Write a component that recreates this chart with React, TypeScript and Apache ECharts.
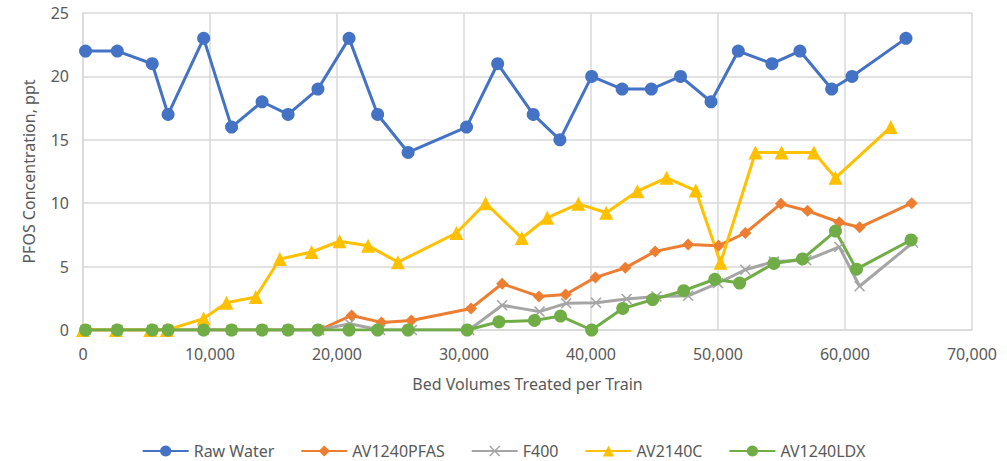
import React, { useEffect, useRef } from "react";
import * as echarts from "echarts";

const xTicks = [0, 10000, 20000, 30000, 40000, 50000, 60000, 70000];
const yTicks = [0, 5, 10, 15, 20, 25];

const rawX = [200, 2700, 5450, 6700, 9500, 11700, 14100, 16150, 18500, 20950, 23200, 25600, 30200, 32650, 35450, 37550, 40050, 42450, 44750, 47050, 49450, 51600, 54250, 56450, 58950, 60550, 64800];
const rawY = [22, 22, 21, 17, 23, 16, 18, 17, 19, 23, 17, 14, 16, 21, 17, 15, 20, 19, 19, 20, 18, 22, 21, 22, 19, 20, 23];

const pfasX = [200, 2700, 5450, 6700, 9500, 11700, 14100, 16150, 18600, 21150, 23500, 25850, 30550, 33000, 35900, 38000, 40350, 42700, 45050, 47650, 50050, 52150, 54950, 57050, 59550, 61150, 65250];
const pfasY = [0, 0, 0, 0, 0, 0, 0, 0, 0, 1.15, 0.6, 0.75, 1.7, 3.65, 2.65, 2.8, 4.15, 4.9, 6.2, 6.75, 6.65, 7.65, 9.95, 9.4, 8.5, 8.1, 10];

const f400X = [200, 2700, 5450, 6700, 9500, 11700, 14100, 16150, 18600, 21000, 23400, 25900, 30400, 33000, 35950, 38050, 40400, 42800, 45150, 47650, 50000, 52150, 54400, 56950, 59550, 61150, 65350];
const f400Y = [0, 0, 0, 0, 0, 0, 0, 0, 0, 0.5, 0, 0, 0, 1.95, 1.45, 2.1, 2.15, 2.45, 2.65, 2.7, 3.7, 4.75, 5.4, 5.5, 6.55, 3.45, 6.9];

const c2140X = [0, 2600, 5300, 6600, 9500, 11300, 13600, 15500, 18000, 20200, 22450, 24800, 29400, 31700, 34550, 36550, 39000, 41200, 43650, 45950, 48250, 50200, 52950, 55000, 57550, 59250, 63600];
const c2140Y = [0, 0, 0, 0, 0.9, 2.15, 2.6, 5.6, 6.15, 7.0, 6.65, 5.35, 7.65, 10, 7.25, 8.85, 9.95, 9.25, 10.95, 12, 11, 5.3, 14, 14, 14, 12, 16];

const ldxX = [200, 2700, 5450, 6700, 9500, 11700, 14100, 16150, 18500, 20950, 23200, 25600, 30250, 32750, 35550, 37600, 40050, 42500, 44850, 47300, 49750, 51700, 54400, 56650, 59250, 60900, 65200];
const ldxY = [0, 0, 0, 0, 0, 0, 0, 0, 0, 0, 0, 0, 0, 0.65, 0.75, 1.1, 0, 1.7, 2.4, 3.1, 4.0, 3.7, 5.25, 5.6, 7.8, 4.8, 7.1];

const seriesNames = ["Raw Water", "AV1240PFAS", "F400", "AV2140C", "AV1240LDX"];
const seriesColors = ["#4472C4", "#ED7D31", "#A5A5A5", "#FFC000", "#70AD47"];

const pair = (xs: number[], ys: number[]) => xs.map((x, i) => [x, ys[i]]);

const crossPath = "path://M1,0L5,4L9,0L10,1L6,5L10,9L9,10L5,6L1,10L0,9L4,5L0,1Z";

export default function App() {
  const ref = useRef<HTMLDivElement>(null);
  useEffect(() => {
    const chart = echarts.init(ref.current!, null, { renderer: "svg" });
    const font = "'Noto Sans', sans-serif";
    const txt = "#595959";
    const grid = "#D9D9D9";
    const datasets = [pair(rawX, rawY), pair(pfasX, pfasY), pair(f400X, f400Y), pair(c2140X, c2140Y), pair(ldxX, ldxY)];
    const symbols = ["circle", "diamond", crossPath, "triangle", "circle"];
    const sizes = [13, 12, 11, 14, 13];
    chart.setOption({
      animation: false,
      backgroundColor: "#ffffff",
      textStyle: { fontFamily: font },
      grid: { left: 83, right: 35, top: 13, bottom: 131, containLabel: false },
      legend: {
        top: 438,
        left: "center",
        itemWidth: 46,
        itemHeight: 14,
        itemGap: 26,
        textStyle: { color: txt, fontSize: 16, fontFamily: font },
        data: seriesNames,
      },
      xAxis: {
        type: "value",
        min: xTicks[0],
        max: xTicks[xTicks.length - 1],
        interval: 10000,
        name: "Bed Volumes Treated per Train",
        nameLocation: "middle",
        nameGap: 46,
        nameTextStyle: { color: txt, fontSize: 16, fontFamily: font },
        axisLine: { show: true, lineStyle: { color: grid, width: 1.5 } },
        axisTick: { show: false },
        splitLine: { show: true, lineStyle: { color: grid, width: 1.5 } },
        axisLabel: {
          color: txt,
          fontSize: 16,
          margin: 16,
          formatter: (v: number) => v.toLocaleString("en-US"),
        },
      },
      yAxis: {
        type: "value",
        min: yTicks[0],
        max: yTicks[yTicks.length - 1],
        interval: 5,
        name: "PFOS Concentration, ppt",
        nameLocation: "middle",
        nameGap: 46,
        nameTextStyle: { color: txt, fontSize: 16, fontFamily: font },
        axisLine: { show: true, lineStyle: { color: grid, width: 1.5 } },
        axisTick: { show: false },
        splitLine: { show: true, lineStyle: { color: grid, width: 1.5 } },
        axisLabel: { color: txt, fontSize: 16, margin: 14 },
      },
      series: seriesNames.map((name, i) => ({
        name,
        type: "line",
        data: datasets[i],
        symbol: symbols[i],
        symbolSize: sizes[i],
        showAllSymbol: true,
        color: seriesColors[i],
        lineStyle: { width: 3, color: seriesColors[i] },
        itemStyle: { color: seriesColors[i] },
      })),
    });
    return () => chart.dispose();
  }, []);
  return <div ref={ref} style={{ position: "absolute", left: 0, top: 0, width: 1007, height: 461 }} />;
}
